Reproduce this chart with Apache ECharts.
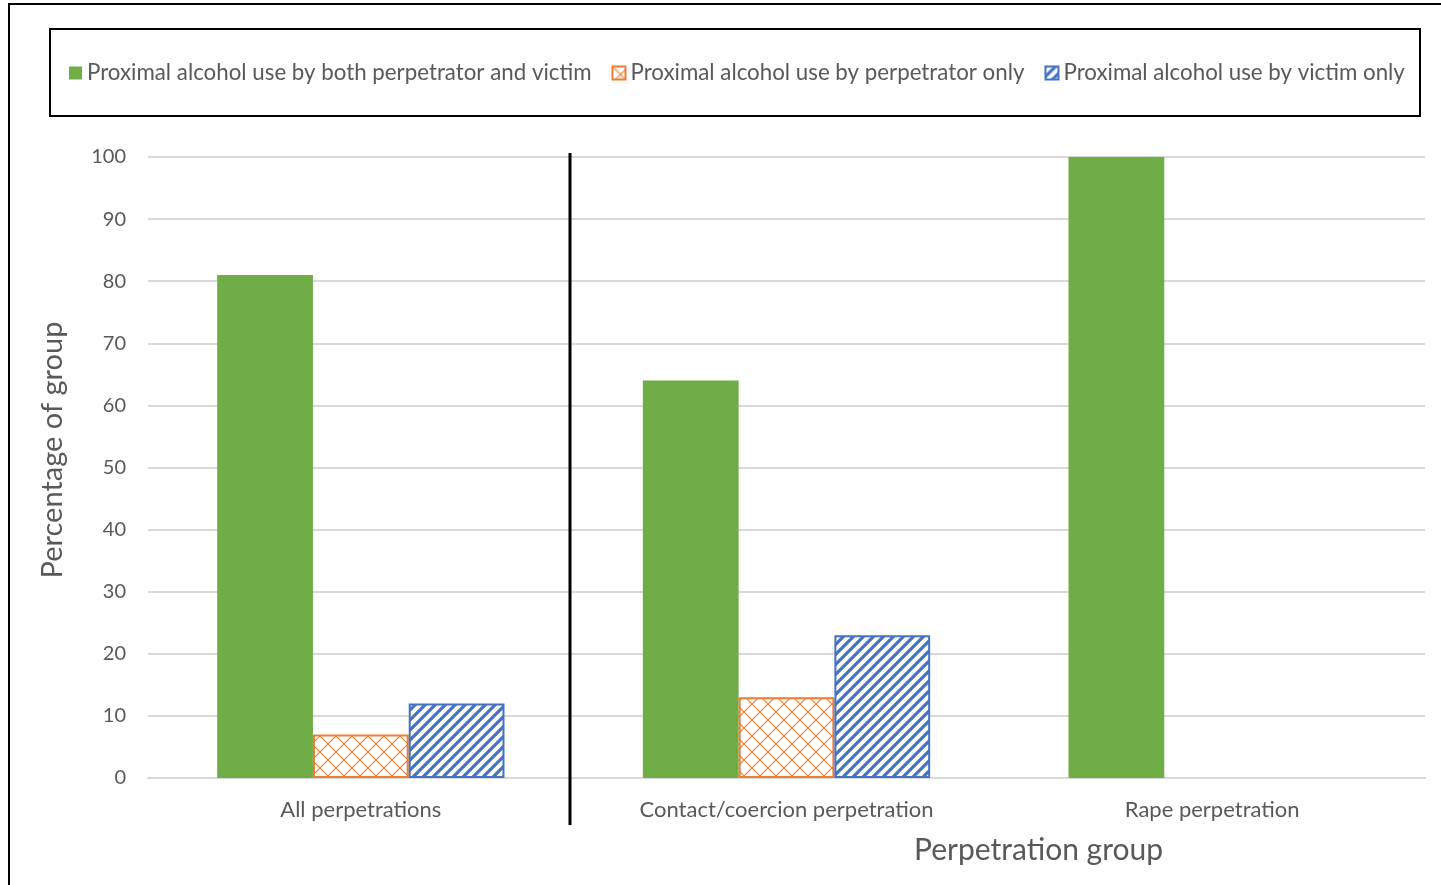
<!DOCTYPE html>
<html>
<head>
<meta charset="utf-8">
<style>
  html, body { margin: 0; padding: 0; background: #ffffff; }
  #chart { width: 1441px; height: 885px; }
</style>
<script src="https://cdn.jsdelivr.net/npm/echarts@6/dist/echarts.min.js"></script>
</head>
<body>
<div id="chart"></div>
<script>
// Perpetration groups on the category axis
const categories = ['All perpetrations', 'Contact/coercion perpetration', 'Rape perpetration'];
// Percentage of each group by proximal alcohol use
const bothValues = [81, 64, 100];
const perpetratorOnlyValues = [7, 13, 0];
const victimOnlyValues = [12, 23, 0];
const seriesNames = [
  'Proximal alcohol use by both perpetrator and victim',
  'Proximal alcohol use by perpetrator only',
  'Proximal alcohol use by victim only'
];
const yTicks = [0, 10, 20, 30, 40, 50, 60, 70, 80, 90, 100];

const GREEN = '#70ad47';
const ORANGE = '#ed7d31';
const BLUE = '#4472c4';
const TEXT = '#595959';
const FONT = 'Lato, "Open Sans", sans-serif';

// Diagonal lattice tile for the perpetrator-only bars
function latticeTile(color) {
  const s = 16;
  const c = document.createElement('canvas');
  c.width = s; c.height = s;
  const ctx = c.getContext('2d');
  ctx.fillStyle = '#ffffff';
  ctx.fillRect(0, 0, s, s);
  ctx.strokeStyle = color;
  ctx.lineWidth = 1.2;
  ctx.beginPath();
  ctx.moveTo(0, 0); ctx.lineTo(s, s);
  ctx.moveTo(s, 0); ctx.lineTo(0, s);
  ctx.stroke();
  return c;
}

// Wide upward diagonal stripes for the victim-only bars
function stripeTile(color) {
  const s = 10;
  const c = document.createElement('canvas');
  c.width = s; c.height = s;
  const ctx = c.getContext('2d');
  ctx.fillStyle = '#ffffff';
  ctx.fillRect(0, 0, s, s);
  ctx.strokeStyle = color;
  ctx.lineWidth = 3.2;
  ctx.beginPath();
  ctx.moveTo(-2, s + 2); ctx.lineTo(s + 2, -2);
  ctx.moveTo(-2, 2); ctx.lineTo(2, -2);
  ctx.moveTo(s - 2, s + 2); ctx.lineTo(s + 2, s - 2);
  ctx.stroke();
  return c;
}

const latticeFill = { image: latticeTile(ORANGE), repeat: 'repeat' };
const stripeFill = { image: stripeTile(BLUE), repeat: 'repeat' };

// Outlined bars: no outline where the value is zero
function outlined(values) {
  return values.map(v => ({ value: v, itemStyle: { borderWidth: v === 0 ? 0 : 2 } }));
}

const chart = echarts.init(document.getElementById('chart'), null, { renderer: 'canvas' });

const option = {
  backgroundColor: '#ffffff',
  animation: false,
  textStyle: { fontFamily: FONT },
  legend: {
    left: 64,
    top: 57,
    itemWidth: 13,
    itemHeight: 13,
    itemGap: 20,
    icon: 'rect',
    textStyle: { color: TEXT, fontSize: 22.3, fontFamily: FONT },
    data: seriesNames
  },
  grid: { left: 148, right: 16, top: 157, bottom: 107, containLabel: false },
  xAxis: {
    type: 'category',
    data: categories,
    axisLine: { show: true, lineStyle: { color: '#d9d9d9', width: 2 } },
    axisTick: { show: false },
    axisLabel: { color: TEXT, fontSize: 22, margin: 21, fontFamily: FONT }
  },
  yAxis: {
    type: 'value',
    min: yTicks[0],
    max: yTicks[yTicks.length - 1],
    interval: 10,
    axisLine: { show: false },
    axisTick: { show: false },
    axisLabel: { color: TEXT, fontSize: 20, margin: 22, fontFamily: FONT },
    splitLine: { lineStyle: { color: '#d9d9d9', width: 2 } }
  },
  series: [
    {
      name: seriesNames[0],
      type: 'bar',
      data: bothValues,
      barGap: '0%',
      barCategoryGap: '32.5%',
      itemStyle: { color: GREEN }
    },
    {
      name: seriesNames[1],
      type: 'bar',
      data: outlined(perpetratorOnlyValues),
      barGap: '0%',
      barCategoryGap: '32.5%',
      itemStyle: { color: latticeFill, borderColor: ORANGE, borderWidth: 2 }
    },
    {
      name: seriesNames[2],
      type: 'bar',
      data: outlined(victimOnlyValues),
      barGap: '0%',
      barCategoryGap: '32.5%',
      itemStyle: { color: stripeFill, borderColor: BLUE, borderWidth: 2 }
    }
  ]
};

chart.setOption(option);

// Frame, legend box, group divider and axis titles
const x0 = chart.convertToPixel({ xAxisIndex: 0 }, 0);
const x1 = chart.convertToPixel({ xAxisIndex: 0 }, 1);
const dividerX = Math.round((x0 + x1) / 2) - 4;
const yTop = chart.convertToPixel({ yAxisIndex: 0 }, 100);

chart.setOption({
  graphic: [
    {
      type: 'rect', z: 0, silent: true,
      shape: { x: 9, y: 4, width: 1500, height: 1000 },
      style: { fill: 'none', stroke: '#000000', lineWidth: 2 }
    },
    {
      type: 'rect', z: 0, silent: true,
      shape: { x: 50, y: 29, width: 1370, height: 87 },
      style: { fill: 'none', stroke: '#000000', lineWidth: 2 }
    },
    {
      type: 'line', z: 10, silent: true,
      shape: { x1: dividerX, y1: yTop - 4, x2: dividerX, y2: 825 },
      style: { stroke: '#000000', lineWidth: 3 }
    },
    {
      type: 'text', z: 10, silent: true,
      x: 53, y: 450, rotation: Math.PI / 2,
      style: {
        text: 'Percentage of group', fill: TEXT, font: '29px ' + FONT,
        align: 'center', verticalAlign: 'middle'
      }
    },
    {
      type: 'text', z: 10, silent: true,
      left: 914, top: 835,
      style: { text: 'Perpetration group', fill: TEXT, font: '30px ' + FONT }
    }
  ]
});
</script>
</body>
</html>
